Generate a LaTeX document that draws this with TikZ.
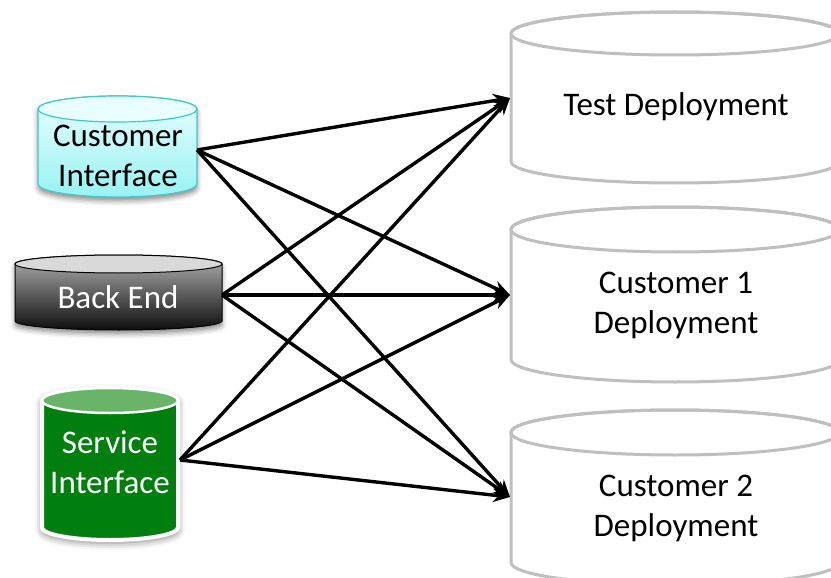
\documentclass[tikz,border=0pt]{standalone}
\usepackage{fontspec}
\setmainfont{Carlito}
\usetikzlibrary{arrows.meta,shadows.blur}

\definecolor{cyanedge}{HTML}{3FC9C9}
\definecolor{cyantop}{HTML}{E9FEFE}
\definecolor{cyanlow}{HTML}{98F3F3}
\definecolor{greenbody}{HTML}{007F0E}
\definecolor{greentop}{HTML}{6AB46A}
\definecolor{drumedge}{HTML}{BFBFBF}

\begin{document}
\begin{tikzpicture}[x=1pt,y=1pt,
  lbl/.style={font=\fontsize{33}{40}\selectfont, align=center, inner sep=0pt},
  link/.style={line width=3.4pt, -{Stealth[length=17pt,width=14pt]}},
  target/.style={draw=drumedge, line width=3pt, fill=white},
  softshadow/.style={blur shadow={shadow xshift=0pt, shadow yshift=-4pt, shadow blur radius=5pt, shadow opacity=45}}]
\useasboundingbox (0,0) rectangle (831,-578);

% ---- Customer Interface (cyan drum)
\path[softshadow, draw=cyanedge, line width=1.2pt, top color=cyantop, bottom color=cyanlow]
  (38,-109) -- (38,-184) arc[start angle=180,end angle=360,x radius=79.5,y radius=13]
  -- (197,-109) arc[start angle=0,end angle=180,x radius=79.5,y radius=13] -- cycle;
\draw[cyanedge, line width=1.2pt, fill=cyantop] (117.5,-109) ellipse[x radius=79.5, y radius=13];
\node[lbl] (ci) at (118,-156) {Customer\\Interface};
\coordinate (ciout) at (197,-150);

% ---- Back End (grey drum)
\path[softshadow, draw=black, line width=1pt, top color=black!30, bottom color=black!95]
  (15,-264) -- (15,-321) arc[start angle=180,end angle=360,x radius=103.5,y radius=9]
  -- (222,-264) arc[start angle=0,end angle=180,x radius=103.5,y radius=9] -- cycle;
\draw[black, line width=1pt, fill=black!15] (118.5,-264) ellipse[x radius=103.5, y radius=9];
\node[lbl, text=white] (be) at (118,-297) {Back End};
\coordinate (beout) at (222,-295);

% ---- Service Interface (green drum, white rim)
\path[blur shadow={shadow xshift=0pt, shadow yshift=-3pt, shadow blur radius=7pt, shadow opacity=50},
  draw=white, line width=4pt, fill=greenbody]
  (42,-400.5) -- (42,-527.5) arc[start angle=180,end angle=360,x radius=68,y radius=12.5]
  -- (178,-400.5) arc[start angle=0,end angle=180,x radius=68,y radius=12.5] -- cycle;
\draw[white, line width=2.5pt, fill=greentop] (110,-400.5) ellipse[x radius=68, y radius=12.5];
\node[lbl, text=white] (si) at (110,-462) {Service\\Interface};
\coordinate (siout) at (180,-460);

% ---- Deployment targets
\path[target]
  (511,-33.5) -- (511,-161.5) arc[start angle=180,end angle=360,x radius=164,y radius=21.5]
  -- (839,-33.5) arc[start angle=0,end angle=180,x radius=164,y radius=21.5] -- cycle;
\draw[drumedge, line width=3pt] (675,-33.5) ellipse[x radius=164, y radius=21.5];
\node[lbl] (test) at (676,-107) {Test Deployment};
\coordinate (testin) at (510,-98);

\path[target]
  (511,-229.5) -- (511,-359.5) arc[start angle=180,end angle=360,x radius=164,y radius=22.5]
  -- (839,-229.5) arc[start angle=0,end angle=180,x radius=164,y radius=22.5] -- cycle;
\draw[drumedge, line width=3pt] (675,-229.5) ellipse[x radius=164, y radius=22.5];
\node[lbl] (cone) at (676,-305) {Customer 1\\Deployment};
\coordinate (conein) at (510,-295);

\path[target]
  (511,-432.5) -- (511,-562.5) arc[start angle=180,end angle=360,x radius=164,y radius=22.5]
  -- (839,-432.5) arc[start angle=0,end angle=180,x radius=164,y radius=22.5] -- cycle;
\draw[drumedge, line width=3pt] (675,-432.5) ellipse[x radius=164, y radius=22.5];
\node[lbl] (ctwo) at (676,-508) {Customer 2\\Deployment};
\coordinate (ctwoin) at (510,-497);

% ---- Every source feeds every deployment
\foreach \src in {ciout,beout,siout}
  \foreach \dst in {testin,conein,ctwoin}
    \draw[link] (\src) -- (\dst);
\end{tikzpicture}
\end{document}
